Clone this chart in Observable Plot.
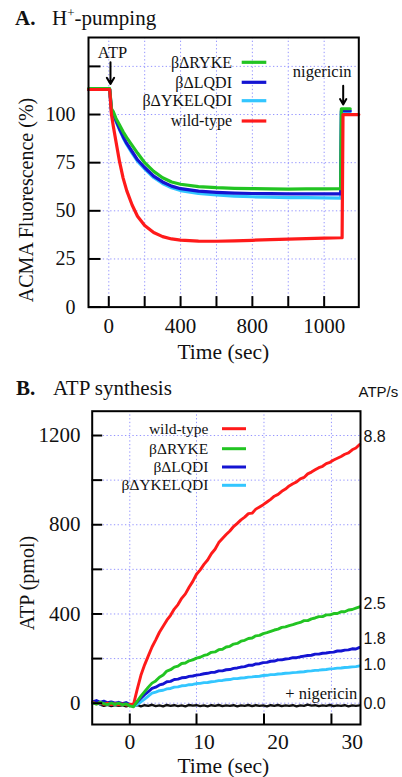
<!DOCTYPE html>
<html><head><meta charset="utf-8">
<script src="https://cdn.jsdelivr.net/npm/d3@7"></script>
<script src="https://cdn.jsdelivr.net/npm/@observablehq/plot@0.6"></script>
<style>
body{margin:0;background:#fff;}
#wrap{position:relative;width:402px;height:777px;overflow:hidden;}
#wrap svg{position:absolute;left:0;}
</style></head><body><div id="wrap"></div>
<script>
// ---------- Panel A: H+-pumping ----------
const aSeriesNames = ["βΔRYKE", "βΔLQDI", "βΔYKELQDI", "wild-type"];
const aTime = [-113, 5, 15, 25, 40, 60, 80, 100, 130, 160, 200, 250, 300, 350, 400, 500, 600, 700, 800, 900, 1000, 1100, 1200, 1292, 1296, 1300, 1305, 1345, 1393];
const aRYKE  = [113.5, 113.5, 103, 101.5, 98, 94.5, 91, 88, 84, 80, 75, 70.5, 67.2, 65, 63.8, 62.6, 62, 61.7, 61.5, 61.4, 61.3, 61.4, 61.4, 61.5, 103, 103, 103, 103, null];
const aLQDI  = [113, 113, 102, 100.5, 97, 92.5, 88.5, 85, 80.8, 76.5, 72.5, 68, 65, 62.8, 61.5, 60.2, 59.6, 59.2, 59, 58.9, 58.8, 58.8, 58.8, 58.8, 102, 102, 102, 102, null];
const aYKELQDI = [113, 113, 102, 100, 96.5, 92, 88, 84.5, 80, 75.8, 71.8, 67.3, 64.2, 62, 60.5, 59, 58.2, 57.6, 57.3, 57.1, 56.9, 56.8, 56.7, 56.6, 101.5, 101.5, 101.5, 101.5, null];
const aWildType = [113, 113, 100, 94, 86, 75.5, 67, 60.5, 53, 47.2, 42.4, 38.7, 36.6, 35.4, 34.8, 34.3, 34.2, 34.4, 34.7, 35, 35.3, 35.6, 35.8, 36, 36, 36, 100, 100, 100];
const aXTicks = [0, 200, 400, 600, 800, 1000, 1200];
const aXLabelTicks = [0, 400, 800, 1200];
const aXLabelText = ["0", "400", "800", "1000"];
const aYTicks = [0, 25, 50, 75, 100, 125];
const aYLabelTicks = [0, 25, 50, 75, 100];
const aAtpAddedAt = 9.5;
const aNigericinAt = 1306;

// ---------- Panel B: ATP synthesis ----------
const bSeriesNames = ["wild-type", "βΔRYKE", "βΔLQDI", "βΔYKELQDI"];
const bTime = [-5,-4.5,-4,-3.5,-3,-2.5,-2,-1.5,-1,-0.5,0,0.5,1,1.5,2,2.5,3,3.5,4,4.5,5,5.5,6,6.5,7,7.5,8,8.5,9,9.5,10,10.5,11,11.5,12,12.5,13,13.5,14,14.5,15,15.5,16,16.5,17,17.5,18,18.5,19,19.5,20,20.5,21,21.5,22,22.5,23,23.5,24,24.5,25,25.5,26,26.5,27,27.5,28,28.5,29,29.5,30,30.5,31];
const bWildType = [4,-3,2,-5,0,-6,-2,-7,-3,-8,-5,-6,62,125,172,212,252,284,318,345,372,394,422,442,470,490,520,546,578,598,622,642,670,690,720,738,756,772,792,806,822,834,850,852,870,880,890,902,914,928,936,950,960,974,984,992,1006,1012,1028,1036,1046,1056,1062,1074,1080,1090,1098,1106,1116,1122,1136,1144,1160];
const bRYKE = [2,-4,4,-2,-6,1,-5,0,-7,-3,-12,-16,8,32,52,72,90,100,116,126,144,150,162,166,178,180,190,194,202,206,214,218,228,230,240,242,252,255,265,268,278,282,290,292,302,304,312,316,322,328,332,340,342,348,352,358,362,370,370,378,382,388,388,396,396,402,402,410,410,418,420,426,432];
const bLQDI = [6,12,4,9,2,6,0,4,-2,3,-6,-10,6,22,38,52,66,72,82,86,96,98,106,108,114,115,120,122,126,128,132,134,138,139,145,145,150,151,156,158,162,164,170,170,176,177,182,183,188,189,194,194,198,200,204,204,208,211,214,215,220,220,224,225,228,229,234,234,238,239,244,243,250];
const bYKELQDI = [-2,1,-4,0,-5,-1,-6,-2,-6,-3,-8,-14,-6,6,18,32,45,50,56,58,64,66,72,73,78,79,83,84,88,89,92,93,96,98,101,102,105,106,110,110,113,114,117,118,120,121,124,125,128,128,131,132,134,135,137,138,140,141,144,145,147,148,150,151,154,155,157,158,160,161,163,164,167];
const bNigericin = [null,null,-6,-12,-7,-13,-8,-12,-9,-14,-10,-13,-8,-14,-9,-12,-7,-13,-10,-14,-8,-12,-9,-13,-10,-14,-8,-11,-9,-13,-10,-14,-9,-12,-8,-13,-10,-12,-9,-14,-10,-12,-8,-13,-9,-12,-10,-14,-9,-12,-8,-13,-10,-12,-9,-14,-10,-12,-6,-11,-9,-13,-10,-12,-8,-13,-10,-12,-9,-14,-10,-12,-10];
const bXTicks = [0, 9, 18.1, 27.2];
const bXLabelTicks = [0, 10, 20, 30];
const bYTicks = [0, 200, 400, 600, 800, 1000, 1200];
const bYLabelTicks = [0, 400, 800, 1200];
const bRateLabels = ["8.8", "2.5", "1.8", "1.0", "0.0"];

// ---------- styling ----------
const cRed = "#ff1a1a", cGreen = "#22c422", cBlue = "#1414d2", cCyan = "#33c6ff", cBlack = "#111";
const gridColor = "#8f8fff";
const serif = "'Liberation Serif', 'Times New Roman', serif";
const sans = "'Liberation Sans', Arial, sans-serif";

function rows(time, vals) { return time.map((t, i) => ({t, v: vals[i]})); }
const gridOpts = {stroke: gridColor, strokeOpacity: 0.95, strokeWidth: 1, strokeDasharray: "1.3 2.4"};

// Panel A plot
const A = {w: 402, h: 370, ml: 88, mr: 43.7, mt: 37, mb: 63.4};
const aInnerW = A.w - A.ml - A.mr, aInnerH = A.h - A.mt - A.mb;
const plotA = Plot.plot({
  width: A.w, height: A.h,
  marginLeft: A.ml, marginRight: A.mr, marginTop: A.mt, marginBottom: A.mb,
  x: {domain: [-113, 1393]},
  y: {domain: [0, 140]},
  style: {fontFamily: serif, color: "#111", background: "transparent", overflow: "visible"},
  marks: [
    Plot.gridX(aXTicks, gridOpts),
    Plot.gridY(aYTicks.filter(d => d > 0), gridOpts),
    Plot.line(rows(aTime, aYKELQDI), {x: "t", y: "v", stroke: cCyan, strokeWidth: 3.2}),
    Plot.line(rows(aTime, aLQDI), {x: "t", y: "v", stroke: cBlue, strokeWidth: 3.2}),
    Plot.line(rows(aTime, aRYKE), {x: "t", y: "v", stroke: cGreen, strokeWidth: 3.2}),
    Plot.line(rows(aTime, aWildType), {x: "t", y: "v", stroke: cRed, strokeWidth: 3.2}),
    Plot.tickX(aXTicks, {x: d => d, insetTop: aInnerH - 10.5, stroke: "#000", strokeWidth: 2}),
    Plot.tickY(aYTicks, {y: d => d, insetRight: aInnerW - 12.5, stroke: "#000", strokeWidth: 2}),
    Plot.axisX({ticks: aXLabelTicks, tickFormat: d => aXLabelText[aXLabelTicks.indexOf(d)], tickSize: 0, tickPadding: 10.5, fontSize: 21, label: null}),
    Plot.axisY({ticks: aYLabelTicks, tickFormat: d => String(d), tickSize: 0, tickPadding: 13, fontSize: 20, label: null}),
    Plot.frame({stroke: "#000", strokeWidth: 2}),
    Plot.arrow([{x: aAtpAddedAt, y1: 127.2, y2: 115.8}], {x1: "x", x2: "x", y1: "y1", y2: "y2", stroke: "#000", strokeWidth: 2, headLength: 9}),
    Plot.arrow([{x: aNigericinAt, y1: 115, y2: 105.2}], {x1: "x", x2: "x", y1: "y1", y2: "y2", stroke: "#000", strokeWidth: 2, headLength: 9})
  ]
});
plotA.style.top = "0px";

// Panel B plot
const B = {top: 380, w: 402, h: 397, ml: 91.7, mr: 42, mt: 30.7, mb: 53};
const bInnerW = B.w - B.ml - B.mr, bInnerH = B.h - B.mt - B.mb;
const plotB = Plot.plot({
  width: B.w, height: B.h,
  marginLeft: B.ml, marginRight: B.mr, marginTop: B.mt, marginBottom: B.mb,
  x: {domain: [-5.07, 31.12]},
  y: {domain: [-95.5, 1309]},
  style: {fontFamily: serif, color: "#111", background: "transparent", overflow: "visible"},
  marks: [
    Plot.gridX(bXTicks, gridOpts),
    Plot.gridY(bYTicks, gridOpts),
    Plot.line(rows(bTime, bNigericin), {x: "t", y: "v", stroke: cBlack, strokeWidth: 2.4}),
    Plot.line(rows(bTime, bYKELQDI), {x: "t", y: "v", stroke: cCyan, strokeWidth: 2.9}),
    Plot.line(rows(bTime, bLQDI), {x: "t", y: "v", stroke: cBlue, strokeWidth: 2.9}),
    Plot.line(rows(bTime, bWildType), {x: "t", y: "v", stroke: cRed, strokeWidth: 2.9}),
    Plot.line(rows(bTime, bRYKE), {x: "t", y: "v", stroke: cGreen, strokeWidth: 2.9}),
    Plot.tickX(bXTicks, {x: d => d, insetTop: bInnerH - 10.5, stroke: "#000", strokeWidth: 2}),
    Plot.tickY(bYTicks, {y: d => d, insetRight: bInnerW - 10.5, stroke: "#000", strokeWidth: 2}),
    Plot.axisX({ticks: bXLabelTicks, tickFormat: d => String(d), tickSize: 0, tickPadding: 9, fontSize: 21.5, label: null}),
    Plot.axisY({ticks: bYLabelTicks, tickFormat: d => String(d), tickSize: 0, tickPadding: 11.7, fontSize: 21, label: null}),
    Plot.frame({stroke: "#000", strokeWidth: 2})
  ]
});
plotB.style.top = B.top + "px";

// ---------- overlay: titles, legends, labels ----------
const ov = d3.create("svg").attr("width", 402).attr("height", 777)
  .style("top", "0px").style("pointer-events", "none").attr("font-family", serif).attr("fill", "#111");

function txt(x, y, s, opts = {}) {
  const t = ov.append("text").attr("x", x).attr("y", y).text(s)
    .attr("font-size", opts.size || 16).attr("text-anchor", opts.anchor || "start");
  if (opts.family) t.attr("font-family", opts.family);
  if (opts.weight) t.attr("font-weight", opts.weight);
  if (opts.rotate) t.attr("transform", `rotate(-90 ${x} ${y})`);
  return t;
}

// titles
txt(15, 25, "A.", {size: 21, weight: "bold"});
const tA = ov.append("text").attr("x", 52).attr("y", 25).attr("font-size", 21);
tA.append("tspan").text("H");
tA.append("tspan").text("+").attr("font-size", 13).attr("dy", -8);
tA.append("tspan").text("-pumping").attr("dy", 8);
txt(16, 395, "B.", {size: 21, weight: "bold"});
txt(53, 395, "ATP synthesis", {size: 21});

// axis titles
txt(33.3, 200, "ACMA Fluorescence (%)", {size: 20, anchor: "middle", rotate: true});
txt(34, 583, "ATP (pmol)", {size: 20, anchor: "middle", rotate: true});
txt(223.3, 359, "Time (sec)", {size: 21.5, anchor: "middle"});
txt(223.3, 772.5, "Time (sec)", {size: 21.5, anchor: "middle"});

// annotations
txt(112.5, 58, "ATP", {size: 16.5, anchor: "middle"});
txt(322.2, 76.5, "nigericin", {size: 16.5, anchor: "middle"});
txt(357.3, 699, "+ nigericin", {size: 16.5, anchor: "end"});

// legend A
const aColors = [cGreen, cBlue, cCyan, cRed];
const aLegY = [62.3, 82.3, 100.7, 121];
aSeriesNames.forEach((n, i) => {
  txt(232, aLegY[i] + 5.3, n, {size: 16, anchor: "end"});
  ov.append("line").attr("x1", 241.7).attr("x2", 266.3).attr("y1", aLegY[i]).attr("y2", aLegY[i])
    .attr("stroke", aColors[i]).attr("stroke-width", 3.2);
});
// legend B
const bColors = [cRed, cGreen, cBlue, cCyan];
const bLegY = [428.7, 448.7, 467, 485.3];
bSeriesNames.forEach((n, i) => {
  txt(208.3, bLegY[i] + 5, n, {size: 15.5, anchor: "end"});
  ov.append("line").attr("x1", 222).attr("x2", 246).attr("y1", bLegY[i]).attr("y2", bLegY[i])
    .attr("stroke", bColors[i]).attr("stroke-width", 3);
});

// rates
txt(358.5, 397, "ATP/s", {size: 15, family: sans});
const rateY = [441.7, 609.3, 644.3, 670, 709.3];
bRateLabels.forEach((s, i) => txt(363.5, rateY[i], s, {size: 16, family: sans}));

const wrap = document.getElementById("wrap");
wrap.appendChild(plotA);
wrap.appendChild(plotB);
wrap.appendChild(ov.node());
</script></body></html>
